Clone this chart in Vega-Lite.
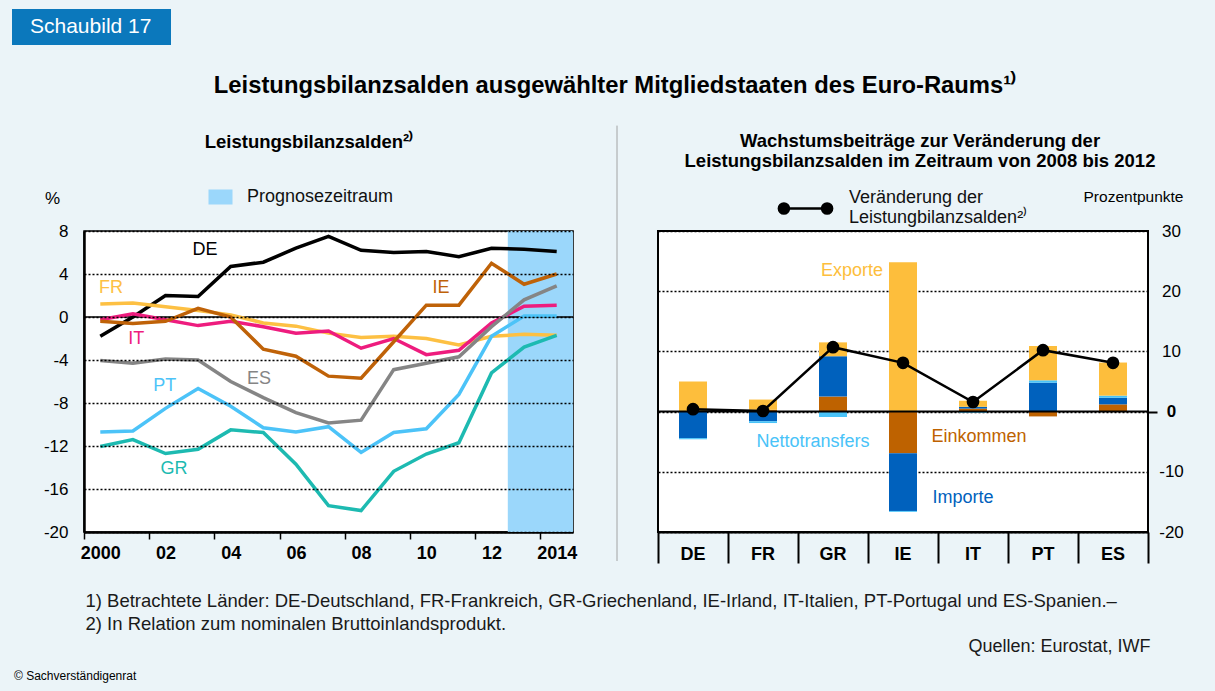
{
  "$schema": "https://vega.github.io/schema/vega-lite/v6.json",
  "background": "#EBF4F8",
  "padding": {"left": 12, "top": 9, "right": 31, "bottom": 10},
  "config": {
    "font": "Liberation Sans",
    "view": {"stroke": null},
    "axis": {"labelColor": "black", "titleColor": "black"},
    "legend": {"labelColor": "black"}
  },
  "title": {"text": "© Sachverständigenrat", "orient": "bottom", "anchor": "start", "frame": "bounds", "offset": 20, "dx": 2, "baseline": "middle", "fontSize": 12, "fontWeight": "normal", "color": "black"},
  "vconcat": [
    {
      "title": {"text": "Leistungsbilanzsalden ausgewählter Mitgliedstaaten des Euro-Raums¹⁾", "orient": "top", "anchor": "middle", "frame": "bounds", "offset": 15, "dx": 1.5, "baseline": "middle", "fontSize": 23.8, "fontWeight": "bold", "color": "black"},
      "bounds": "flush",
      "spacing": 85,
      "hconcat": [
        {
          "width": 489,
          "height": 301,
          "view": {"stroke": "black", "strokeWidth": 1.5, "fill": "white"},
          "title": {"text": "Leistungsbilanzsalden²⁾", "anchor": "middle", "frame": "group", "offset": -35, "dx": -19.5, "baseline": "middle", "fontSize": 18.5, "fontWeight": "bold", "color": "black"},
          "layer": [
            {
              "data": {"values": [{"start": 2012.5, "end": 2014.5, "period": "Prognosezeitraum"}]},
              "mark": {"type": "rect"},
              "encoding": {
                "x": {"field": "start", "type": "quantitative", "scale": {"domain": [1999.5, 2014.5], "nice": false, "zero": false}},
                "x2": {"field": "end"},
                "fill": {"field": "period", "type": "nominal", "scale": {"range": ["#9BD7FB"]},
                  "legend": {"orient": "none", "legendX": 127.5, "legendY": -43, "title": null, "padding": 0, "symbolType": "M-1.6,-1H1.6V1H-1.6Z", "symbolSize": 225, "symbolStrokeWidth": 0, "symbolOpacity": 1, "labelFontSize": 18, "labelOffset": 17.5, "labelColor": "#111"}}
              }
            },
            {
              "data": {"values": [{}]},
              "mark": {"type": "rule", "color": "black", "strokeWidth": 1.5},
              "encoding": {"y": {"datum": 0, "type": "quantitative"}}
            },
            {
              "data": {"values": [
                {"country": "DE", "year": 2000, "value": -1.8}, {"country": "DE", "year": 2001, "value": 0.0}, {"country": "DE", "year": 2002, "value": 2.0}, {"country": "DE", "year": 2003, "value": 1.9}, {"country": "DE", "year": 2004, "value": 4.7}, {"country": "DE", "year": 2005, "value": 5.1}, {"country": "DE", "year": 2006, "value": 6.4}, {"country": "DE", "year": 2007, "value": 7.5}, {"country": "DE", "year": 2008, "value": 6.2}, {"country": "DE", "year": 2009, "value": 6.0}, {"country": "DE", "year": 2010, "value": 6.1}, {"country": "DE", "year": 2011, "value": 5.6}, {"country": "DE", "year": 2012, "value": 6.4}, {"country": "DE", "year": 2013, "value": 6.3}, {"country": "DE", "year": 2014, "value": 6.1},
                {"country": "FR", "year": 2000, "value": 1.2}, {"country": "FR", "year": 2001, "value": 1.3}, {"country": "FR", "year": 2002, "value": 0.95}, {"country": "FR", "year": 2003, "value": 0.6}, {"country": "FR", "year": 2004, "value": 0.2}, {"country": "FR", "year": 2005, "value": -0.55}, {"country": "FR", "year": 2006, "value": -0.85}, {"country": "FR", "year": 2007, "value": -1.5}, {"country": "FR", "year": 2008, "value": -1.9}, {"country": "FR", "year": 2009, "value": -1.8}, {"country": "FR", "year": 2010, "value": -2.0}, {"country": "FR", "year": 2011, "value": -2.6}, {"country": "FR", "year": 2012, "value": -1.8}, {"country": "FR", "year": 2013, "value": -1.6}, {"country": "FR", "year": 2014, "value": -1.7},
                {"country": "IT", "year": 2000, "value": -0.25}, {"country": "IT", "year": 2001, "value": 0.3}, {"country": "IT", "year": 2002, "value": -0.25}, {"country": "IT", "year": 2003, "value": -0.8}, {"country": "IT", "year": 2004, "value": -0.4}, {"country": "IT", "year": 2005, "value": -0.9}, {"country": "IT", "year": 2006, "value": -1.5}, {"country": "IT", "year": 2007, "value": -1.3}, {"country": "IT", "year": 2008, "value": -2.9}, {"country": "IT", "year": 2009, "value": -2.0}, {"country": "IT", "year": 2010, "value": -3.5}, {"country": "IT", "year": 2011, "value": -3.1}, {"country": "IT", "year": 2012, "value": -0.55}, {"country": "IT", "year": 2013, "value": 1.0}, {"country": "IT", "year": 2014, "value": 1.1},
                {"country": "IE", "year": 2000, "value": -0.4}, {"country": "IE", "year": 2001, "value": -0.6}, {"country": "IE", "year": 2002, "value": -0.4}, {"country": "IE", "year": 2003, "value": 0.8}, {"country": "IE", "year": 2004, "value": 0.0}, {"country": "IE", "year": 2005, "value": -3.0}, {"country": "IE", "year": 2006, "value": -3.65}, {"country": "IE", "year": 2007, "value": -5.5}, {"country": "IE", "year": 2008, "value": -5.7}, {"country": "IE", "year": 2009, "value": -2.3}, {"country": "IE", "year": 2010, "value": 1.1}, {"country": "IE", "year": 2011, "value": 1.1}, {"country": "IE", "year": 2012, "value": 5.0}, {"country": "IE", "year": 2013, "value": 3.05}, {"country": "IE", "year": 2014, "value": 4.0},
                {"country": "ES", "year": 2000, "value": -4.05}, {"country": "ES", "year": 2001, "value": -4.3}, {"country": "ES", "year": 2002, "value": -3.9}, {"country": "ES", "year": 2003, "value": -4.0}, {"country": "ES", "year": 2004, "value": -6.0}, {"country": "ES", "year": 2005, "value": -7.5}, {"country": "ES", "year": 2006, "value": -8.9}, {"country": "ES", "year": 2007, "value": -9.85}, {"country": "ES", "year": 2008, "value": -9.6}, {"country": "ES", "year": 2009, "value": -4.9}, {"country": "ES", "year": 2010, "value": -4.3}, {"country": "ES", "year": 2011, "value": -3.7}, {"country": "ES", "year": 2012, "value": -0.9}, {"country": "ES", "year": 2013, "value": 1.6}, {"country": "ES", "year": 2014, "value": 2.9},
                {"country": "PT", "year": 2000, "value": -10.7}, {"country": "PT", "year": 2001, "value": -10.6}, {"country": "PT", "year": 2002, "value": -8.5}, {"country": "PT", "year": 2003, "value": -6.65}, {"country": "PT", "year": 2004, "value": -8.3}, {"country": "PT", "year": 2005, "value": -10.3}, {"country": "PT", "year": 2006, "value": -10.7}, {"country": "PT", "year": 2007, "value": -10.2}, {"country": "PT", "year": 2008, "value": -12.6}, {"country": "PT", "year": 2009, "value": -10.75}, {"country": "PT", "year": 2010, "value": -10.4}, {"country": "PT", "year": 2011, "value": -7.2}, {"country": "PT", "year": 2012, "value": -1.8}, {"country": "PT", "year": 2013, "value": 0.1}, {"country": "PT", "year": 2014, "value": 0.1},
                {"country": "GR", "year": 2000, "value": -12.05}, {"country": "GR", "year": 2001, "value": -11.4}, {"country": "GR", "year": 2002, "value": -12.7}, {"country": "GR", "year": 2003, "value": -12.3}, {"country": "GR", "year": 2004, "value": -10.5}, {"country": "GR", "year": 2005, "value": -10.75}, {"country": "GR", "year": 2006, "value": -13.7}, {"country": "GR", "year": 2007, "value": -17.55}, {"country": "GR", "year": 2008, "value": -18.0}, {"country": "GR", "year": 2009, "value": -14.35}, {"country": "GR", "year": 2010, "value": -12.75}, {"country": "GR", "year": 2011, "value": -11.7}, {"country": "GR", "year": 2012, "value": -5.2}, {"country": "GR", "year": 2013, "value": -2.8}, {"country": "GR", "year": 2014, "value": -1.7}
              ]},
              "mark": {"type": "line", "strokeWidth": 3.5},
              "encoding": {
                "x": {"field": "year", "type": "quantitative", "scale": {"domain": [1999.5, 2014.5], "nice": false, "zero": false},
                  "axis": {"values": [1999.5, 2000.5, 2001.5, 2002.5, 2003.5, 2004.5, 2005.5, 2006.5, 2007.5, 2008.5, 2009.5, 2010.5, 2011.5, 2012.5, 2013.5, 2014.5],
                    "labelExpr": "(datum.value + 0.5) % 2 == 0 ? (((datum.value + 0.5) == 2000 || (datum.value + 0.5) == 2014) ? format(datum.value + 0.5, 'd') : slice(format(datum.value + 0.5, 'd'), 2)) : ''",
                    "labelOffset": 16.3, "labelFontSize": 18, "labelFontWeight": "bold", "labelBaseline": "middle", "labelPadding": 14, "labelOverlap": false, "labelFlush": false, "labelBound": false,
                    "tickSize": 7, "tickColor": "black", "tickWidth": 1.5, "domainColor": "black", "domainWidth": 2.5, "grid": false,
                    "title": ["1) Betrachtete Länder: DE-Deutschland, FR-Frankreich, GR-Griechenland, IE-Irland, IT-Italien, PT-Portugal und ES-Spanien.–", "2) In Relation zum nominalen Bruttoinlandsprodukt."],
                    "titleX": 1, "titleY": 59, "titleAnchor": "start", "titleAlign": "left", "titleBaseline": "top", "titleFontWeight": "normal", "titleFontSize": 18.5, "titleLineHeight": 23, "titleColor": "#1a1a1a", "titleLimit": 3000}},
                "y": {"field": "value", "type": "quantitative", "scale": {"domain": [-20, 8], "nice": false},
                  "axis": {"values": [-20, -16, -12, -8, -4, 0, 4, 8], "labelExpr": "datum.value < 0 ? '-' + format(-datum.value, 'd') : format(datum.value, 'd')", "grid": true, "gridColor": "black", "gridDash": [2, 2], "gridWidth": 1.5, "ticks": false, "labelPadding": 16, "labelFontSize": 17, "domainColor": "black", "domainWidth": 2.5, "zindex": 1,
                    "title": "%", "titleAngle": 0, "titleX": -32, "titleY": -33, "titleAlign": "center", "titleBaseline": "middle", "titleFontWeight": "normal", "titleFontSize": 17}},
                "color": {"field": "country", "type": "nominal", "scale": {"domain": ["DE", "FR", "IT", "IE", "ES", "PT", "GR"], "range": ["#000000", "#FDC043", "#EE1C7E", "#BF6208", "#858585", "#4CC3F8", "#1DBAB1"]}, "legend": null}
              }
            },
            {
              "data": {"values": [
                {"country": "DE", "year": 2003.21, "value": 6.24},
                {"country": "FR", "year": 2000.33, "value": 2.72},
                {"country": "IT", "year": 2001.1, "value": -2.0},
                {"country": "IE", "year": 2010.45, "value": 2.72},
                {"country": "ES", "year": 2004.87, "value": -5.8},
                {"country": "PT", "year": 2001.98, "value": -6.46},
                {"country": "GR", "year": 2002.26, "value": -14.15}
              ]},
              "mark": {"type": "text", "fontSize": 18, "align": "center", "baseline": "middle"},
              "encoding": {
                "x": {"field": "year", "type": "quantitative"},
                "y": {"field": "value", "type": "quantitative"},
                "text": {"field": "country"},
                "color": {"field": "country", "type": "nominal", "legend": null}
              }
            },
            {
              "data": {"values": [{}]},
              "mark": {"type": "rule", "color": "#9a9a9a", "strokeWidth": 1},
              "encoding": {
                "x": {"datum": 2015.85, "type": "quantitative"},
                "y": {"datum": 17.8, "type": "quantitative"},
                "y2": {"datum": -22.7},
                "strokeDash": {"datum": "Schaubild 17", "scale": {"range": [[1, 0]]},
                  "legend": {"orient": "none", "legendX": -72, "legendY": -222, "title": " ", "titleOrient": "right", "titlePadding": 12, "titleFontSize": 21, "fillColor": "#0B78BC", "padding": 7.5, "symbolOpacity": 0, "symbolSize": 64, "labelOffset": -10.5, "labelColor": "white", "labelFontSize": 21, "labelLimit": 400}}
              }
            }
          ]
        },
        {
          "width": 490,
          "height": 301,
          "view": {"stroke": "black", "strokeWidth": 2, "fill": "white"},
          "title": {"text": ["Wachstumsbeiträge zur Veränderung der", "Leistungsbilanzsalden im Zeitraum von 2008 bis 2012"], "anchor": "middle", "frame": "group", "offset": 2, "dx": 17, "baseline": "top", "lineHeight": 19.5, "fontSize": 18.5, "fontWeight": "bold", "color": "black"},
          "resolve": {"scale": {"color": "independent"}, "legend": {"color": "independent"}},
          "layer": [
            {
              "data": {"values": [
                {"country": "DE", "component": "Exporte", "value": 5.0},
                {"country": "DE", "component": "Importe", "value": -4.4},
                {"country": "DE", "component": "Nettotransfers", "value": -0.2},
                {"country": "FR", "component": "Einkommen", "value": 0.3},
                {"country": "FR", "component": "Exporte", "value": 1.7},
                {"country": "FR", "component": "Importe", "value": -1.6},
                {"country": "FR", "component": "Nettotransfers", "value": -0.3},
                {"country": "GR", "component": "Einkommen", "value": 2.5},
                {"country": "GR", "component": "Importe", "value": 6.7},
                {"country": "GR", "component": "Exporte", "value": 2.3},
                {"country": "GR", "component": "Nettotransfers", "value": -0.9},
                {"country": "IE", "component": "Exporte", "value": 24.8},
                {"country": "IE", "component": "Einkommen", "value": -6.9},
                {"country": "IE", "component": "Importe", "value": -9.6},
                {"country": "IE", "component": "Nettotransfers", "value": -0.15},
                {"country": "IT", "component": "Einkommen", "value": 0.5},
                {"country": "IT", "component": "Importe", "value": 0.3},
                {"country": "IT", "component": "Exporte", "value": 1.0},
                {"country": "IT", "component": "Nettotransfers", "value": -0.2},
                {"country": "PT", "component": "Einkommen", "value": -0.8},
                {"country": "PT", "component": "Importe", "value": 4.8},
                {"country": "PT", "component": "Nettotransfers", "value": 0.4},
                {"country": "PT", "component": "Exporte", "value": 5.7},
                {"country": "ES", "component": "Einkommen", "value": 1.2},
                {"country": "ES", "component": "Importe", "value": 1.1},
                {"country": "ES", "component": "Nettotransfers", "value": 0.35},
                {"country": "ES", "component": "Exporte", "value": 5.5}
              ]},
              "transform": [{"calculate": "indexof(['Einkommen', 'Importe', 'Nettotransfers', 'Exporte'], datum.component)", "as": "stackrank"}],
              "mark": {"type": "bar", "width": {"band": 0.4}},
              "encoding": {
                "x": {"field": "country", "type": "nominal", "sort": ["DE", "FR", "GR", "IE", "IT", "PT", "ES"], "scale": {"paddingInner": 0, "paddingOuter": 0},
                  "axis": {"labelAngle": 0, "labelFontSize": 18, "labelFontWeight": "bold", "labelBaseline": "middle", "labelPadding": -9,
                    "tickSize": 31, "tickColor": "black", "tickWidth": 2, "bandPosition": 1, "tickExtra": true, "domainColor": "black", "domainWidth": 2,
                    "title": "Quellen: Eurostat, IWF", "titleAnchor": "end", "titleAlign": "right", "titleX": 492, "titleY": 114, "titleBaseline": "middle", "titleFontWeight": "normal", "titleFontSize": 18, "titleColor": "#1a1a1a"}},
                "y": {"field": "value", "type": "quantitative", "stack": "zero", "scale": {"domain": [-20, 30], "nice": false},
                  "axis": {"orient": "right", "values": [-20, -10, 0, 10, 20, 30], "labelExpr": "datum.value < 0 ? '-' + format(-datum.value, 'd') : format(datum.value, 'd')", "grid": true, "gridColor": "black", "gridDash": [2, 2], "gridWidth": 1.5,
                    "tickSize": 9, "tickColor": "black", "tickWidth": 2, "tickOpacity": {"condition": {"test": "datum.value == 0", "value": 1}, "value": 0},
                    "labelPadding": 14, "labelAlign": "center", "labelFontSize": 17, "labelFontWeight": {"condition": {"test": "datum.value == 0", "value": "bold"}, "value": "normal"},
                    "domain": false, "title": "Prozentpunkte", "titleAngle": 0, "titleX": -15, "titleY": -35, "titleAlign": "center", "titleBaseline": "middle", "titleFontWeight": "normal", "titleFontSize": 15.5}},
                "color": {"field": "component", "type": "nominal", "scale": {"domain": ["Exporte", "Importe", "Einkommen", "Nettotransfers"], "range": ["#FDBE3C", "#0061BD", "#BE6200", "#49C3F8"]}, "legend": null},
                "order": {"field": "stackrank", "type": "quantitative"}
              }
            },
            {
              "data": {"values": [{}]},
              "mark": {"type": "rule", "color": "black", "strokeWidth": 2},
              "encoding": {"y": {"datum": 0, "type": "quantitative"}}
            },
            {
              "data": {"values": [
                {"country": "DE", "change": 0.4},
                {"country": "FR", "change": 0.1},
                {"country": "GR", "change": 10.7},
                {"country": "IE", "change": 8.1},
                {"country": "IT", "change": 1.6},
                {"country": "PT", "change": 10.2},
                {"country": "ES", "change": 8.1}
              ]},
              "mark": {"type": "line", "strokeWidth": 2.5, "point": {"filled": true, "size": 160}},
              "encoding": {
                "x": {"field": "country", "type": "nominal", "sort": ["DE", "FR", "GR", "IE", "IT", "PT", "ES"]},
                "y": {"field": "change", "type": "quantitative"},
                "color": {"datum": "Veränderung der Leistungbilanzsalden", "scale": {"range": ["black"]},
                  "legend": {"orient": "none", "legendX": 122, "legendY": -59, "title": null, "padding": 0,
                    "symbolType": "M-1,0.46H1M-1.11,0.46A0.21,0.21,0,1,0,-0.69,0.46A0.21,0.21,0,1,0,-1.11,0.46ZM0.69,0.46A0.21,0.21,0,1,0,1.11,0.46A0.21,0.21,0,1,0,0.69,0.46Z",
                    "symbolSize": 2304, "symbolStrokeWidth": 2.5, "symbolFillColor": "black", "symbolStrokeColor": "black",
                    "labelExpr": "['Veränderung der', 'Leistungbilanzsalden²⁾']", "labelFontSize": 18, "labelOffset": 18, "labelColor": "#111", "labelLimit": 400}}
              }
            },
            {
              "data": {"values": [{"country": "GR", "value": 23.4, "label": "Exporte"}]},
              "mark": {"type": "text", "dx": 19, "fontSize": 18, "color": "#FDBE3C", "align": "center", "baseline": "middle"},
              "encoding": {"x": {"field": "country", "type": "nominal", "sort": ["DE", "FR", "GR", "IE", "IT", "PT", "ES"]}, "y": {"field": "value", "type": "quantitative"}, "text": {"field": "label"}}
            },
            {
              "data": {"values": [{"country": "GR", "value": -5.1, "label": "Nettotransfers"}]},
              "mark": {"type": "text", "dx": -20, "fontSize": 18, "color": "#49C3F8", "align": "center", "baseline": "middle"},
              "encoding": {"x": {"field": "country", "type": "nominal", "sort": ["DE", "FR", "GR", "IE", "IT", "PT", "ES"]}, "y": {"field": "value", "type": "quantitative"}, "text": {"field": "label"}}
            },
            {
              "data": {"values": [{"country": "IT", "value": -4.3, "label": "Einkommen"}]},
              "mark": {"type": "text", "dx": 6, "fontSize": 18, "color": "#BE6200", "align": "center", "baseline": "middle"},
              "encoding": {"x": {"field": "country", "type": "nominal", "sort": ["DE", "FR", "GR", "IE", "IT", "PT", "ES"]}, "y": {"field": "value", "type": "quantitative"}, "text": {"field": "label"}}
            },
            {
              "data": {"values": [{"country": "IT", "value": -14.3, "label": "Importe"}]},
              "mark": {"type": "text", "dx": -10, "fontSize": 18, "color": "#0061BD", "align": "center", "baseline": "middle"},
              "encoding": {"x": {"field": "country", "type": "nominal", "sort": ["DE", "FR", "GR", "IE", "IT", "PT", "ES"]}, "y": {"field": "value", "type": "quantitative"}, "text": {"field": "label"}}
            }
          ]
        }
      ]
    }
  ]
}
